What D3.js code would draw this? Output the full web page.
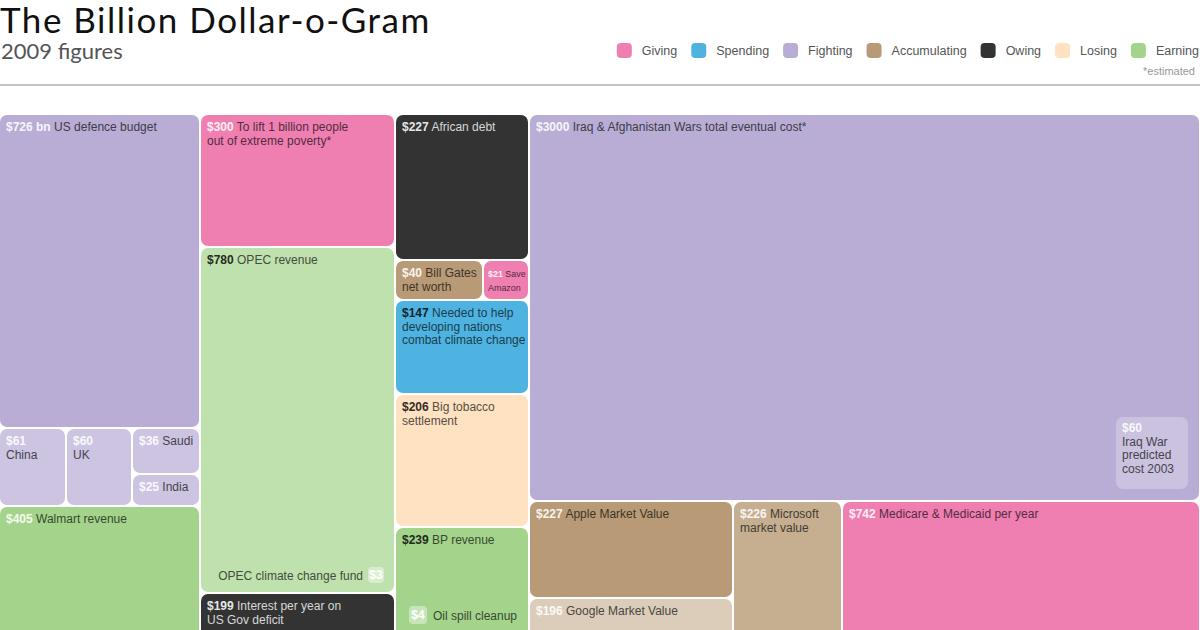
<!DOCTYPE html>
<html>
<head>
<meta charset="utf-8">
<script src="https://cdn.jsdelivr.net/npm/d3@7"></script>
<style>
body { margin: 0; background: #fff; }
svg { display: block; font-family: "Liberation Sans", Arial, sans-serif; }
.title { font-family: Lato, "Noto Sans", sans-serif; font-size: 35px; letter-spacing: 1.5px; fill: #111; }
.subtitle { font-family: Lato, "Noto Sans", sans-serif; font-size: 22px; fill: #555; }
.legend text { font-size: 12.5px; fill: #555; }
.box text { font-size: 12px; }
</style>
</head>
<body>
<svg width="1200" height="630"></svg>
<script>
const width = 1200, height = 630;

// legend categories
const categories = ["Giving", "Spending", "Fighting", "Accumulating", "Owing", "Losing", "Earning"];
const categoryColors = ["#f07fb1", "#4eb3e1", "#b9add5", "#b89b76", "#333333", "#fee2c2", "#a4d48b"];

// boxes ("|" = line break in the label)
const labels = [
	"US defence budget", "|China", "|UK", "Saudi", "India", "Walmart revenue",
	"To lift 1 billion people|out of extreme poverty*", "OPEC revenue", "Interest per year on|US Gov deficit",
	"African debt", "Bill Gates|net worth", "Save|Amazon", "Needed to help|developing nations|combat climate change",
	"Big tobacco|settlement", "BP revenue",
	"Iraq & Afghanistan Wars total eventual cost*", "Apple Market Value", "Google Market Value",
	"Microsoft|market value", "Medicare & Medicaid per year"
];
const values = [726, 61, 60, 36, 25, 405, 300, 780, 199, 227, 40, 21, 147, 206, 239, 3000, 227, 196, 226, 742];
const kinds = [
	"Fighting", "Fighting", "Fighting", "Fighting", "Fighting", "Earning",
	"Giving", "Earning", "Owing",
	"Owing", "Accumulating", "Giving", "Spending", "Losing", "Earning",
	"Fighting", "Accumulating", "Accumulating", "Accumulating", "Giving"
];
// where each box sits in the hand made layout (column / row / stack)
const groups = [
	"c1", "c1/row", "c1/row", "c1/row/stack", "c1/row/stack", "c1",
	"c2", "c2", "c2",
	"c3", "c3/row", "c3/row", "c3", "c3", "c3",
	"c4", "c4/row/stack", "c4/row/stack", "c4/row", "c4/row"
];

// small figures drawn inside a bigger box
const insetLabels = ["Iraq War|predicted|cost 2003", "OPEC climate change fund", "Oil spill cleanup"];
const insetValues = [60, 3, 4];
const insetHosts = [15, 7, 14];

const color = d3.scaleOrdinal().domain(categories).range(categoryColors);

// some boxes are drawn in a paler tone of their colour
const tint = { 1: 0.28, 2: 0.28, 3: 0.28, 4: 0.28, 7: 0.3, 17: 0.5, 18: 0.2 };
// boxes whose dollar figure is printed dark instead of white
const darkValue = new Set([7, 12, 13, 14]);

function fillOf(i) {
	const c = color(kinds[i]);
	return tint[i] ? d3.interpolateRgb(c, "#fff")(tint[i]) : c;
}

const svg = d3.select("svg");

// header
svg.append("text").attr("class", "title").attr("x", 0).attr("y", 33).text("The Billion Dollar-o-Gram");
svg.append("text").attr("class", "subtitle").attr("x", 1).attr("y", 59).text("2009 figures");
svg.append("line")
	.attr("x1", 0).attr("x2", width).attr("y1", 85).attr("y2", 85)
	.attr("stroke", "#c4c4c4").attr("stroke-width", 2);

// legend, laid out from the right edge
const legend = svg.append("g").attr("class", "legend");
const items = legend.selectAll("g").data(categories).join("g");
items.append("rect")
	.attr("width", 15).attr("height", 15).attr("rx", 4)
	.attr("y", 43)
	.attr("fill", d => color(d));
items.append("text").attr("x", 25).attr("y", 55).text(d => d);
let lx = 1199;
const widths = [];
items.each(function () { widths.push(d3.select(this).select("text").node().getComputedTextLength()); });
for (let i = categories.length - 1; i >= 0; i--) {
	lx -= widths[i] + 25;
	d3.select(items.nodes()[i]).attr("transform", `translate(${lx},0)`);
	lx -= 14;
}
svg.append("text")
	.attr("x", 1195).attr("y", 75).attr("text-anchor", "end")
	.attr("font-size", 11).attr("fill", "#999")
	.text("*estimated");

// build the hierarchy
const rows = [];
const seen = new Set();
function ensure(id) {
	if (seen.has(id)) return;
	const cut = id.lastIndexOf("/");
	const parent = id === "root" ? null : (cut < 0 ? "root" : id.slice(0, cut));
	if (parent) ensure(parent);
	seen.add(id);
	rows.push({ id: id, parentId: parent });
}
labels.forEach((label, i) => {
	ensure(groups[i]);
	rows.push({ id: "item" + i, parentId: groups[i], index: i });
});

const root = d3.stratify().id(d => d.id).parentId(d => d.parentId)(rows)
	.sum(d => d.index === undefined ? 0 : values[d.index]);

d3.treemap()
	.tile(d3.treemapSliceDice)
	.size([1199, 565])
	.paddingInner(2)
	.round(true)(root);

const chart = svg.append("g").attr("transform", "translate(0,115)");

const leaves = root.leaves();
const byIndex = {};
leaves.forEach(d => byIndex[d.data.index] = d);

const box = chart.selectAll("g.box").data(leaves).join("g").attr("class", "box");
box.append("rect")
	.attr("x", d => d.x0).attr("y", d => d.y0)
	.attr("width", d => d.x1 - d.x0).attr("height", d => d.y1 - d.y0)
	.attr("rx", 7)
	.attr("fill", d => fillOf(d.data.index));

function writeLabel(sel, x, y, i, valueText, lines, fill, maxWidth) {
	const dark = kinds[i] === "Owing";
	const labelColor = dark ? "#d8d8d8" : d3.color(fill).darker(3).formatHex();
	const valueColor = darkValue.has(i) ? d3.color(fill).darker(4.5).formatHex() : "rgba(255,255,255,0.9)";
	const t = sel.append("text").attr("x", x).attr("y", y);
	lines.forEach((line, j) => {
		if (j === 0) {
			t.append("tspan").attr("font-weight", "bold").attr("fill", valueColor).text(valueText);
			if (line) t.append("tspan").attr("fill", labelColor).text(" " + line);
		} else {
			t.append("tspan").attr("x", x).attr("dy", 13.5).attr("fill", labelColor).text(line);
		}
	});
	// shrink the text a little when the box is too narrow
	const w = t.node().getBBox().width;
	if (maxWidth && w > maxWidth) t.style("font-size", (12 * maxWidth / w).toFixed(2) + "px");
}

box.each(function (d) {
	const i = d.data.index;
	const unit = i === 0 ? " bn" : "";
	const w = d.x1 - d.x0;
	const pad = w < 60 ? 4 : 6;
	writeLabel(d3.select(this), d.x0 + pad, d.y0 + 16, i, "$" + values[i] + unit,
		labels[i].split("|"), fillOf(i), w - pad - 2);
});

// insets, sized on the same dollars-to-area scale as the host box
insetValues.forEach((v, j) => {
	const h = byIndex[insetHosts[j]];
	const hi = insetHosts[j];
	const k = (h.x1 - h.x0) * (h.y1 - h.y0) / values[hi];
	const s = Math.round(Math.sqrt(v * k));
	const hostFill = fillOf(hi);
	const g = chart.append("g").attr("class", "box");
	const labelColor = d3.color(hostFill).darker(3).formatHex();
	if (j === 0) {
		const x = h.x1 - 11 - s, y = h.y1 - 11 - s;
		const f = d3.interpolateRgb(hostFill, "#fff")(0.25);
		g.append("rect").attr("x", x).attr("y", y).attr("width", s).attr("height", s).attr("rx", 7).attr("fill", f);
		writeLabel(g, x + 6, y + 15, hi, "$" + v, [""].concat(insetLabels[j].split("|")), f, s - 9);
	} else {
		const x = j === 1 ? h.x1 - 10 - s : h.x0 + 13;
		const y = j === 1 ? h.y1 - 9 - s : h.y0 + 78;
		g.append("rect").attr("x", x).attr("y", y).attr("width", s).attr("height", s).attr("rx", 4)
			.attr("fill", d3.interpolateRgb(hostFill, "#fff")(0.4));
		g.append("text").attr("x", x + s / 2).attr("y", y + s / 2 + 3.5)
			.attr("text-anchor", "middle").attr("font-weight", "bold").attr("font-size", 10)
			.attr("fill", "#fff").text("$" + v);
		g.append("text")
			.attr("x", j === 1 ? x - 5 : x + s + 6).attr("y", y + s / 2 + 4.5)
			.attr("text-anchor", j === 1 ? "end" : "start")
			.attr("font-size", 12.5)
			.attr("fill", labelColor).text(insetLabels[j]);
	}
});
</script>
</body>
</html>
